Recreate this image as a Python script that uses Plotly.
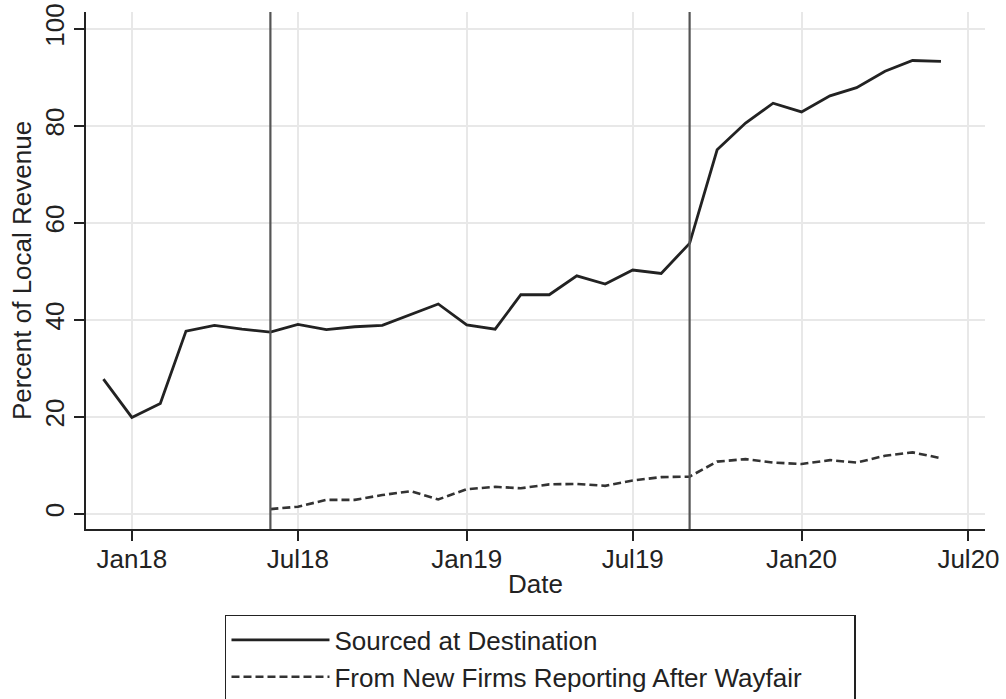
import plotly.graph_objects as go

# ---- data ----
months_sourced = [
    "2017-12-01", "2018-01-01", "2018-02-01", "2018-03-01", "2018-04-01", "2018-05-01",
    "2018-06-01", "2018-07-01", "2018-08-01", "2018-09-01", "2018-10-01", "2018-11-01",
    "2018-12-01", "2019-01-01", "2019-02-01", "2019-03-01", "2019-04-01", "2019-05-01",
    "2019-06-01", "2019-07-01", "2019-08-01", "2019-09-01", "2019-10-01", "2019-11-01",
    "2019-12-01", "2020-01-01", "2020-02-01", "2020-03-01", "2020-04-01", "2020-05-01",
    "2020-06-01",
]
sourced_at_destination = [
    27.8, 19.9, 22.8, 37.7, 38.9, 38.1,
    37.5, 39.1, 38.0, 38.6, 38.9, 41.2,
    43.3, 39.0, 38.1, 45.2, 45.2, 49.1,
    47.4, 50.3, 49.6, 55.8, 75.1, 80.6,
    84.7, 82.9, 86.2, 87.9, 91.3, 93.5,
    93.3,
]
months_new_firms = months_sourced[6:]
new_firms_after_wayfair = [
    1.0, 1.5, 2.9, 2.9, 3.9, 4.7,
    3.0, 5.1, 5.6, 5.3, 6.1, 6.2,
    5.8, 6.9, 7.6, 7.7, 10.8, 11.3,
    10.6, 10.3, 11.1, 10.6, 12.0, 12.7,
    11.5,
]
series_names = ["Sourced at Destination", "From New Firms Reporting After Wayfair"]
event_dates = ["2018-06-01", "2019-09-01"]

x_tick_vals = ["2018-01-01", "2018-07-01", "2019-01-01", "2019-07-01", "2020-01-01", "2020-07-01"]
x_tick_text = ["Jan18", "Jul18", "Jan19", "Jul19", "Jan20", "Jul20"]
y_tick_vals = [0, 20, 40, 60, 80, 100]

FONT = "Liberation Sans, Arial, sans-serif"
INK = "#222222"
GRID = "#e8e8e8"
FS = 26

fig = go.Figure()
fig.add_trace(go.Scatter(
    x=months_sourced, y=sourced_at_destination, mode="lines",
    name=series_names[0],
    line=dict(color=INK, width=2.8),
))
fig.add_trace(go.Scatter(
    x=months_new_firms, y=new_firms_after_wayfair, mode="lines",
    name=series_names[1],
    line=dict(color="#333333", width=2.6, dash="8px,4px"),
))

for d in event_dates:
    fig.add_shape(type="line", xref="x", yref="paper", x0=d, x1=d, y0=0, y1=1,
                  line=dict(color="#555555", width=2.2), layer="above")

fig.update_layout(
    width=1006, height=699,
    margin=dict(l=86, r=21, t=12, b=170, autoexpand=False),
    paper_bgcolor="white", plot_bgcolor="white",
    font=dict(family=FONT, size=FS, color=INK),
    showlegend=True,
    legend=dict(
        x=0.1546, y=-0.1663, xanchor="left", yanchor="top",
        orientation="h",
        bordercolor=INK, borderwidth=1.5, bgcolor="white",
        font=dict(family=FONT, size=FS, color=INK),
        itemwidth=98,
        entrywidth=515, entrywidthmode="pixels",
        tracegroupgap=0,
    ),
    xaxis=dict(
        type="date",
        range=["2017-11-12", "2020-07-19"],
        tickmode="array", tickvals=x_tick_vals, ticktext=x_tick_text,
        ticks="outside", ticklen=10, tickwidth=2, tickcolor=INK,
        showline=True, linewidth=2, linecolor=INK,
        showgrid=True, gridcolor=GRID, gridwidth=1.5,
        zeroline=False, automargin=False,
        ticklabelstandoff=-4,
        title=dict(text="Date", standoff=2, font=dict(size=FS)),
        tickfont=dict(size=FS),
    ),
    yaxis=dict(
        range=[-3.1, 103.5],
        tickmode="array", tickvals=y_tick_vals,
        ticks="outside", ticklen=10, tickwidth=2, tickcolor=INK,
        tickangle=-90,
        showline=True, linewidth=2, linecolor=INK,
        showgrid=True, gridcolor=GRID, gridwidth=1.5,
        zeroline=False, automargin=False,
        title=dict(text="Percent of Local Revenue", standoff=0, font=dict(size=FS)),
        tickfont=dict(size=FS),
    ),
)

fig.write_html("out.html")
